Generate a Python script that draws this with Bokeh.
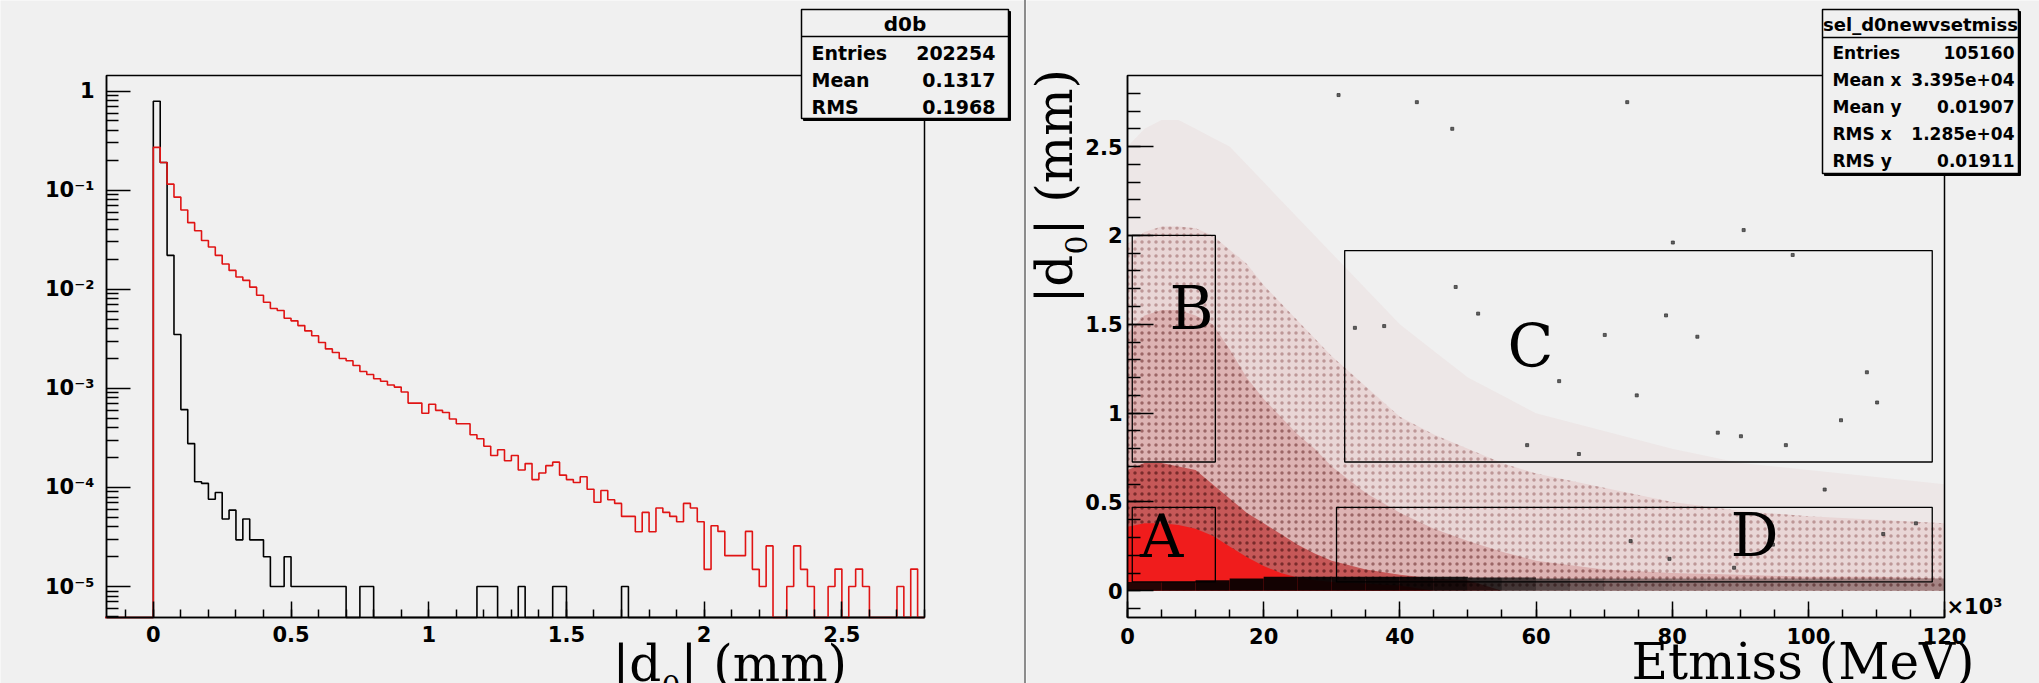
import math
from bokeh.plotting import figure
from bokeh.models import Range1d, FixedTicker, CustomJSTickFormatter, Spacer
from bokeh.layouts import row
from bokeh.core.properties import value
from bokeh.embed import file_html
from bokeh.resources import INLINE

# ---------------------------------------------------------------- data (left: |d0| histograms)
d0_bin_width = 0.025
d0_first_edge = -0.175
d0_red = [0, 0, 0, 0, 0, 0, 0,
          0.27, 0.19, 0.115, 0.085, 0.063, 0.047, 0.039, 0.031, 0.0267, 0.022,
          0.018, 0.0155, 0.0133, 0.0123, 0.0105, 0.0087, 0.0074, 0.0064, 0.0061, 0.0051,
          0.0048, 0.0043, 0.0038, 0.0034, 0.0029, 0.0025, 0.0023, 0.0020, 0.0019, 0.0017,
          0.00148, 0.00138, 0.00125, 0.00118, 0.00108, 0.00103, 0.00092, 0.00071, 0.00071, 0.00056,
          0.00069, 0.00060, 0.00057, 0.00049, 0.00044, 0.00044, 0.00034, 0.00031, 0.00026, 0.00021,
          0.00024, 0.000186, 0.00021, 0.00015, 0.000174, 0.00012, 0.00014, 0.000166, 0.00018, 0.000133,
          0.00012, 0.000112, 0.000128, 0.000096, 0.000071, 0.000093, 0.000075, 0.000069, 0.000051, 0.000051,
          0.0000357, 0.000056, 0.0000357, 0.000062, 0.000056, 0.000051, 0.000045, 0.000069, 0.000062, 0.000045,
          0.0000149, 0.000041, 0.000036, 0.0000205, 0.0000205, 0.0000205, 0.000036, 0.0000149, 0.00001, 0.0000257,
          0, 0, 0.00001, 0.0000257, 0.0000149, 0.00001, 0, 0, 0.00001, 0.000015,
          0, 0.00001, 0.000015, 0.00001, 0, 0, 0, 0, 0.00001, 0,
          0.000015, 0]
d0_black = [0, 0, 0, 0, 0, 0, 0,
            0.79, 0.19, 0.022, 0.0035, 0.00061, 0.000277, 0.000114, 0.00011, 0.000076, 0.000089,
            0.000048, 0.000059, 0.0000296, 0.000048, 0.0000296, 0.0000296, 0.00002, 0.00001, 0.00001, 0.00002,
            0.00001, 0.00001, 0.00001, 0.00001, 0.00001, 0.00001, 0.00001, 0.00001, 0, 0,
            0.00001, 0.00001, 0, 0, 0, 0, 0, 0, 0, 0,
            0, 0, 0, 0, 0, 0, 0, 0.00001, 0.00001, 0.00001,
            0, 0, 0, 0.00001, 0, 0, 0, 0, 0.00001, 0.00001,
            0, 0, 0, 0, 0, 0, 0, 0, 0.00001] + [0] * 43
d0_xticks = [0, 0.5, 1, 1.5, 2, 2.5]
d0_yticks = [1e-5, 1e-4, 1e-3, 1e-2, 1e-1, 1]
d0_title_parts = ["|d", "0", "| (mm)"]
d0_stats_title = "d0b"
d0_stats_names = ["Entries", "Mean", "RMS"]
d0_stats_values = ["202254", "0.1317", "0.1968"]

# ---------------------------------------------------------------- data (right: |d0| vs Etmiss, Etmiss in 10^3 MeV)
et_band_x = [0, 2.5, 5, 7.5, 10, 12.5, 15, 17.5, 20, 22.5, 25, 27.5, 30, 35, 40, 45, 50, 55, 60, 70, 80, 90, 100, 110, 120]
red_trace_top = [2.5, 2.6, 2.65, 2.65, 2.6, 2.55, 2.5, 2.4, 2.3, 2.2, 2.1, 2.0, 1.9, 1.7, 1.5, 1.35, 1.2, 1.1, 1.0, 0.9, 0.8, 0.72, 0.68, 0.64, 0.6]
red_light_top = [1.95, 2.02, 2.05, 2.05, 2.04, 2.0, 1.92, 1.84, 1.72, 1.62, 1.52, 1.42, 1.32, 1.15, 0.98, 0.88, 0.8, 0.72, 0.66, 0.58, 0.5, 0.45, 0.42, 0.4, 0.38]
red_medium_top = [1.45, 1.55, 1.58, 1.58, 1.55, 1.5, 1.36, 1.2, 1.08, 0.98, 0.88, 0.8, 0.7, 0.55, 0.44, 0.35, 0.28, 0.22, 0.17, 0.12, 0.1, 0.09, 0.08, 0.08, 0.07]
red_dense_top = [0.68, 0.72, 0.72, 0.7, 0.68, 0.6, 0.52, 0.44, 0.38, 0.32, 0.26, 0.21, 0.17, 0.12, 0.09, 0.07, 0.06, 0, 0, 0, 0, 0, 0, 0, 0]
red_solid_top = [0.36, 0.38, 0.38, 0.37, 0.35, 0.31, 0.25, 0.19, 0.14, 0.1, 0.075, 0.06, 0.05, 0.04, 0.03, 0, 0, 0, 0, 0, 0, 0, 0, 0, 0]
black_band_edges = [0, 5, 10, 15, 20, 25, 30, 35, 40, 45, 50, 55, 60, 65, 70, 75, 80, 85, 90, 95, 100, 105, 110, 115, 120]
black_band_top = [0.05, 0.05, 0.06, 0.07, 0.08, 0.08, 0.08, 0.08, 0.08, 0.08, 0.075, 0.075, 0.07, 0.07, 0.07, 0.07, 0.07, 0.07, 0.07, 0.07, 0.07, 0.07, 0.07, 0.07]
black_band_density = [0.85, 0.9, 0.92, 0.92, 0.92, 0.92, 0.92, 0.92, 0.9, 0.88, 0.8, 0.7, 0.6, 0.5, 0.42, 0.38, 0.35, 0.33, 0.32, 0.3, 0.3, 0.28, 0.28, 0.26]
sparse_et = [33.4, 37.7, 48.2, 51.5, 79.1, 83.7, 70.1, 108.6, 90.1, 104.8, 74.8, 63.4, 97.7, 80.1, 73.4, 47.7, 31.0, 42.5,
             90.5, 110.1, 96.7, 86.7, 58.7, 66.3, 102.4, 115.8, 73.9, 94.8, 111.0, 79.6, 89.1]
sparse_d0 = [1.48, 1.49, 1.71, 1.56, 1.55, 1.43, 1.44, 1.23, 0.87, 0.96, 1.10, 1.18, 1.89, 1.96, 2.75, 2.60, 2.79, 2.75,
             2.03, 1.06, 0.82, 0.89, 0.82, 0.77, 0.57, 0.38, 0.28, 0.26, 0.32, 0.18, 0.13]
region_names = ["A", "B", "C", "D"]
region_left = [0.7, 0.7, 31.9, 30.7]
region_right = [12.9, 12.9, 118.2, 118.2]
region_bottom = [0.05, 0.725, 0.725, 0.05]
region_top = [0.47, 2.0, 1.915, 0.47]
region_label_et = [5.0, 9.4, 59.2, 92.1]
region_label_d0 = [0.306, 1.592, 1.378, 0.317]
et_xticks = [0, 20, 40, 60, 80, 100, 120]
sc_yticks = [0, 0.5, 1, 1.5, 2, 2.5]
sc_xtitle = "Etmiss (MeV)"
sc_ytitle_parts = ["|d", "0", "| (mm)"]
sc_xscale = "\u00d710\u00b3"
sc_stats_title = "sel_d0newvsetmiss"
sc_stats_names = ["Entries", "Mean x", "Mean y", "RMS x", "RMS y"]
sc_stats_values = ["105160", "3.395e+04", "0.01907", "1.285e+04", "0.01911"]

# ---------------------------------------------------------------- layout / style
BG = "#f0f0f0"
SANS = "DejaVu Sans"
SERIF = "DejaVu Serif"
W_LEFT, W_SEP, W_RIGHT, H = 1024, 2, 1013, 683
X_OFF = W_LEFT + W_SEP
L_L, L_R, F_T, F_B = 106, 924, 75, 617        # ROOT frame of the left pad (page px)
R_L, R_R = 1127, 1944                          # ROOT frame of the right pad (page px)
LX0, LX1 = -0.17, 2.8
LY0, LY1 = 4.87e-6, 1.436
RX0, RX1 = 0.0, 120.0
RY0, RY1 = -0.15, 2.9


def lx(px):
    return LX0 + (px - L_L) / (L_R - L_L) * (LX1 - LX0)


def ly(py):
    a, b = math.log10(LY0), math.log10(LY1)
    return 10 ** (b - (py - F_T) / (F_B - F_T) * (b - a))


def rx(px):
    return RX0 + (px - R_L) / (R_R - R_L) * (RX1 - RX0)


def ry(py):
    return RY1 - (py - F_T) / (F_B - F_T) * (RY1 - RY0)


def style_axis(ax, tick_in, standoff):
    ax.axis_line_color = "black"
    ax.axis_line_width = 1.5
    ax.major_tick_in = tick_in
    ax.major_tick_out = 0
    ax.minor_tick_in = tick_in // 2
    ax.minor_tick_out = 0
    ax.major_tick_line_width = 1.5
    ax.minor_tick_line_width = 1.5
    ax.major_label_text_font = SANS
    ax.major_label_text_font_style = "bold"
    ax.major_label_text_font_size = "21px"
    ax.major_label_text_color = "black"
    ax.major_label_standoff = standoff


def add_texts(p, xs, ys, texts, size, align, font=SANS, style="bold", angle=0.0):
    p.text(x=xs, y=ys, text=texts, text_font=value(font), text_font_style=style, text_font_size=size,
           text_align=align, text_baseline="middle", text_color="black", angle=angle)


def stats_box(p, fx, fy, left, right, top, bottom, sep_y, title, title_size, names, values, name_x, value_x,
              row_y, row_size):
    p.quad(left=[fx(left + 2)], right=[fx(right + 2)], top=[fy(top + 2)], bottom=[fy(bottom + 2)],
           fill_color="black", line_color="black")
    p.quad(left=[fx(left)], right=[fx(right)], top=[fy(top)], bottom=[fy(bottom)],
           fill_color=BG, line_color="black", line_width=1.5)
    p.segment(x0=[fx(left)], y0=[fy(sep_y)], x1=[fx(right)], y1=[fy(sep_y)], line_color="black", line_width=1.5)
    add_texts(p, [fx((left + right) / 2.0)], [fy((top + sep_y) / 2.0 + 1)], [title], title_size, "center")
    add_texts(p, [fx(name_x)] * len(names), [fy(v) for v in row_y], names, row_size, "left")
    add_texts(p, [fx(value_x)] * len(values), [fy(v) for v in row_y], values, row_size, "right")


def new_pad(width, xr, yr, y_type):
    p = figure(width=width, height=H, x_range=Range1d(*xr), y_range=Range1d(*yr), y_axis_type=y_type,
               output_backend="svg", toolbar_location=None,
               min_border_left=0, min_border_right=0, min_border_top=0, min_border_bottom=0,
               background_fill_color=BG, border_fill_color=BG, outline_line_color=None)
    p.grid.visible = False
    return p


# ---------------------------------------------------------------- left pad
p1 = new_pad(W_LEFT, (lx(0), lx(W_LEFT)), (ly(H), ly(0)), "log")
xa, ya = p1.xaxis[0], p1.yaxis[0]
style_axis(xa, 16, 8)
style_axis(ya, 24, 12)
xa.fixed_location = LY0
ya.fixed_location = LX0
xa.bounds = (LX0, LX1)
ya.bounds = (LY0, LY1)
xa.ticker = FixedTicker(ticks=d0_xticks, minor_ticks=[round(-0.1 + 0.1 * i, 2) for i in range(30)])
xa.formatter = CustomJSTickFormatter(code="return String(tick);")
log_minor = [k * 10.0 ** e for e in range(-6, 1) for k in range(2, 10) if LY0 <= k * 10.0 ** e <= LY1]
ya.ticker = FixedTicker(ticks=d0_yticks, minor_ticks=log_minor)
ya.formatter = CustomJSTickFormatter(code="""
const e = Math.round(Math.log10(tick));
if (e === 0) { return "1"; }
const sup = {"-": "\u207b", "0": "\u2070", "1": "\u00b9", "2": "\u00b2", "3": "\u00b3", "4": "\u2074",
             "5": "\u2075", "6": "\u2076", "7": "\u2077", "8": "\u2078", "9": "\u2079"};
let s = "";
for (const c of String(e)) { s += sup[c]; }
return "10" + s;
""")

# ROOT frame (top / right edges)
p1.quad(left=[LX0], right=[LX1], bottom=[LY0], top=[LY1], fill_alpha=0, line_color="black", line_width=1.5)


def step_coords(values):
    xs, ys = [d0_first_edge], [LY0]
    for i, v in enumerate(values):
        x0 = d0_first_edge + i * d0_bin_width
        vv = v if v > 0 else LY0
        xs += [x0, x0 + d0_bin_width]
        ys += [vv, vv]
    xs.append(d0_first_edge + len(values) * d0_bin_width)
    ys.append(LY0)
    return xs, ys


bx, by = step_coords(d0_black)
p1.line(bx, by, line_color="black", line_width=1.6)
rxs, rys = step_coords(d0_red)
p1.line(rxs, rys, line_color="#e01414", line_width=1.6)

# x title  |d_0| (mm)   (baseline ~681 px, subscript ~14 px lower)
add_texts(p1, [lx(612), lx(612 + 49), lx(612 + 49 + 19)], [ly(663.5), ly(685), ly(663.5)], d0_title_parts,
          ["50px", "30px", "50px"], "left", font=SERIF, style="normal")

stats_box(p1, lx, ly, 801, 1008, 9, 118, 36, d0_stats_title, "20px", d0_stats_names, d0_stats_values,
          811, 995, [52, 79, 106], "19px")

# ---------------------------------------------------------------- right pad
p2 = new_pad(W_RIGHT, (rx(X_OFF), rx(X_OFF + W_RIGHT)), (ry(H), ry(0)), "linear")
xb, yb = p2.xaxis[0], p2.yaxis[0]
style_axis(xb, 16, 10)
style_axis(yb, 26, 5)
xb.fixed_location = RY0
yb.fixed_location = RX0
xb.bounds = (RX0, RX1)
yb.bounds = (RY0, RY1)
xb.ticker = FixedTicker(ticks=et_xticks, minor_ticks=[5 * i for i in range(25)])
xb.formatter = CustomJSTickFormatter(code="return String(tick);")
yb.ticker = FixedTicker(ticks=sc_yticks, minor_ticks=[round(-0.1 + 0.1 * i, 2) for i in range(30)])
yb.formatter = CustomJSTickFormatter(code="return String(tick);")

band_styles = [
    (red_trace_top, "#ede7e7", None, 0.0),
    (red_light_top, "#e9d6d6", "#7a3a3a", 0.4),
    (red_medium_top, "#ddb3b3", "#5a1a1a", 0.5),
    (red_dense_top, "#c65858", "#3a0606", 0.55),
    (red_solid_top, "#f01c1c", None, 0.0),
]
for top, col, hcol, halpha in band_styles:
    if hcol:
        p2.varea(x=et_band_x, y1=0.0, y2=top, fill_color=col, hatch_pattern="dot", hatch_color=hcol,
                 hatch_scale=7, hatch_weight=1.2, hatch_alpha=halpha)
    else:
        p2.varea(x=et_band_x, y1=0.0, y2=top, fill_color=col)

p2.quad(left=black_band_edges[:-1], right=black_band_edges[1:], bottom=0.0, top=black_band_top,
        fill_color="black", fill_alpha=black_band_density, line_alpha=0)
p2.scatter(sparse_et, sparse_d0, marker="square", size=3, color="#333333", alpha=0.75)
p2.quad(left=region_left, right=region_right, bottom=region_bottom, top=region_top,
        fill_alpha=0, line_color="black", line_width=1.3)
p2.text(x=region_label_et, y=region_label_d0, text=region_names, text_font=value(SERIF), text_font_size="60px",
        text_align="center", text_baseline="middle", text_color="black")

# ROOT frame (top / right edges)
p2.quad(left=[RX0], right=[RX1], bottom=[RY0], top=[RY1], fill_alpha=0, line_color="black", line_width=1.5)
add_texts(p2, [rx(1946)], [ry(606)], [sc_xscale], "21px", "left")

# axis titles
add_texts(p2, [rx(1631)], [ry(661)], [sc_xtitle], "50px", "left", font=SERIF, style="normal")
add_texts(p2, [rx(1054), rx(1075), rx(1054)], [ry(303), ry(303 - 49), ry(303 - 49 - 19)], sc_ytitle_parts,
          ["50px", "30px", "50px"], "left", font=SERIF, style="normal", angle=math.pi / 2)

stats_box(p2, rx, ry, 1822, 2018, 9, 173, 37, sc_stats_title, "18px", sc_stats_names, sc_stats_values,
          1832, 2014, [52, 79, 106, 133, 160], "17px")

sep = Spacer(width=W_SEP, height=H, styles={"background-color": "#8c8c8c"})
layout = row(p1, sep, p2)
with open("out.html", "w", encoding="utf-8") as f:
    f.write(file_html(layout, INLINE))
